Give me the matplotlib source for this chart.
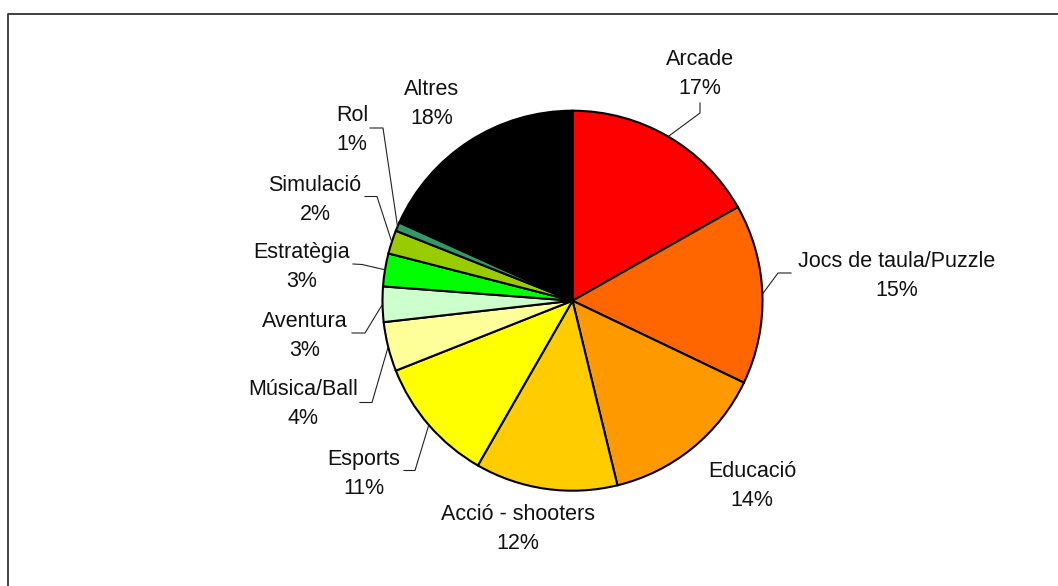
import numpy as np
import matplotlib
matplotlib.use("Agg")
import matplotlib.pyplot as plt

plt.rcParams['font.family'] = ['Liberation Sans', 'DejaVu Sans']

# share of games per genre (%)
genres = ["Arcade", "Jocs de taula/Puzzle", "Educació", "Acció - shooters", "Esports",
          "Música/Ball", "Aventura", "Estratègia", "Simulació", "Rol", "Altres"]
shares = [16.8, 15.3, 14.1, 12.1, 10.7, 4.2, 3.0, 2.8, 2.0, 0.75, 18.25]
colors = ["#FF0000", "#FF6600", "#FF9900", "#FFCC00", "#FFFF00", "#FFFF99",
          "#CCFFCC", "#00FF00", "#99CC00", "#339966", "#000000"]

W, H = 1058, 586
cx, cy, R = 572.5, 300.7, 190

# label centres (pixels from top-left) and the end of the short stub of each leader
label_pos = {
    "Arcade": (700, 74), "Jocs de taula/Puzzle": (897, 276), "Educació": (752, 486),
    "Acció - shooters": (518, 529), "Esports": (364, 474), "Música/Ball": (303, 404),
    "Aventura": (305, 336), "Estratègia": (302, 267), "Simulació": (315, 200),
    "Rol": (352, 130), "Altres": (432, 104),
}
leader_stub = {
    "Arcade": [(700, 103), (700, 113)],
    "Jocs de taula/Puzzle": [(791, 273), (778, 273)],
    "Esports": [(404, 470.5), (415, 470.5)],
    "Música/Ball": [(360, 402.5), (372, 402.5)],
    "Aventura": [(352, 333), (365, 333)],
    "Estratègia": [(353, 264), (362, 264.5)],
    "Simulació": [(365, 196.5), (377, 196.5)],
    "Rol": [(370, 128), (383, 128)],
}

fig = plt.figure(figsize=(W / 100, H / 100), dpi=100)
ax = fig.add_axes([0, 0, 1, 1])

wedges, _ = ax.pie(shares, colors=colors, startangle=90, counterclock=False,
                   center=(cx, H - cy), radius=R,
                   wedgeprops=dict(edgecolor="black", linewidth=1.5))

for w, name, v in zip(wedges, genres, shares):
    lx, ly = label_pos[name]
    ax.text(lx, H - ly, f"{name}\n{v:.0f}%", ha="center", va="center",
            fontsize=15.5, linespacing=1.5, color="#111111")
    if name in leader_stub:
        mid = np.deg2rad((w.theta1 + w.theta2) / 2)
        ex, ey = cx + R * np.cos(mid), (H - cy) + R * np.sin(mid)
        pts = leader_stub[name]
        xs = [p[0] for p in pts] + [ex]
        ys = [H - p[1] for p in pts] + [ey]
        ax.plot(xs, ys, color="#222222", lw=0.8)

# outer chart border (only top and left edges are visible)
ax.plot([7.5, 7.5, W + 5], [-5, H - 14, H - 14], color="#333333", lw=1.3, clip_on=False)

ax.set_xlim(0, W)
ax.set_ylim(0, H)
ax.set_aspect("equal")
ax.axis("off")

fig.savefig("out.png", dpi=100)
